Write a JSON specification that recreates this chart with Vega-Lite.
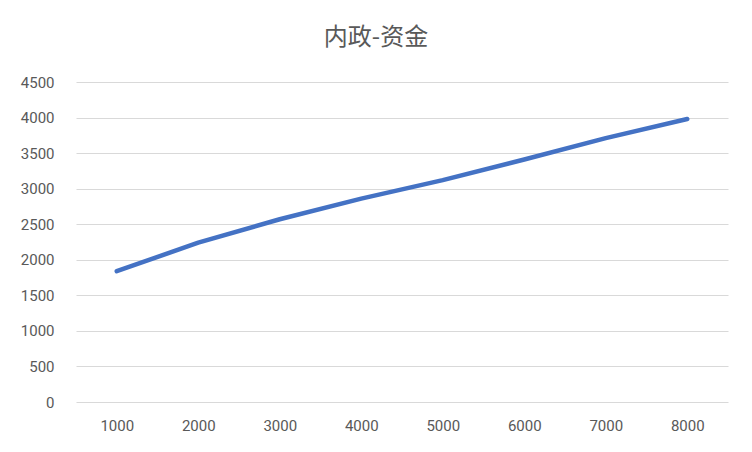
{
  "$schema": "https://vega.github.io/schema/vega-lite/v6.json",
  "autosize": "none",
  "width": 652,
  "height": 320,
  "padding": {"left": 76, "top": 82, "right": 24, "bottom": 50},
  "background": "white",
  "title": {
    "text": "内政-资金",
    "font": "Noto Sans CJK SC",
    "fontSize": 24,
    "fontWeight": "normal",
    "color": "#595959",
    "anchor": "middle",
    "dx": -26,
    "offset": 25
  },
  "data": {
    "values": [
      {"x": "1000", "y": 1840},
      {"x": "2000", "y": 2240},
      {"x": "3000", "y": 2570},
      {"x": "4000", "y": 2860},
      {"x": "5000", "y": 3120},
      {"x": "6000", "y": 3410},
      {"x": "7000", "y": 3710},
      {"x": "8000", "y": 3980}
    ]
  },
  "mark": {"type": "line", "color": "#4472C4", "strokeWidth": 4.5, "strokeCap": "round", "strokeJoin": "round"},
  "encoding": {
    "x": {
      "field": "x",
      "type": "ordinal",
      "sort": null,
      "scale": {"type": "point", "padding": 0.5},
      "axis": {
        "title": null,
        "labelAngle": 0,
        "domain": false,
        "ticks": false,
        "grid": false,
        "labelPadding": 16,
        "labelFont": "Liberation Sans Narrow, Roboto",
        "labelFontSize": 15,
        "labelColor": "#595959"
      }
    },
    "y": {
      "field": "y",
      "type": "quantitative",
      "scale": {"domain": [0, 4500], "nice": false},
      "axis": {
        "title": null,
        "values": [0, 500, 1000, 1500, 2000, 2500, 3000, 3500, 4000, 4500],
        "format": "d",
        "domain": false,
        "ticks": false,
        "grid": true,
        "gridColor": "#d9d9d9",
        "gridWidth": 1,
        "labelPadding": 22,
        "labelFont": "Liberation Sans Narrow, Roboto",
        "labelFontSize": 15,
        "labelColor": "#595959"
      }
    }
  },
  "config": {"view": {"stroke": null}}
}
